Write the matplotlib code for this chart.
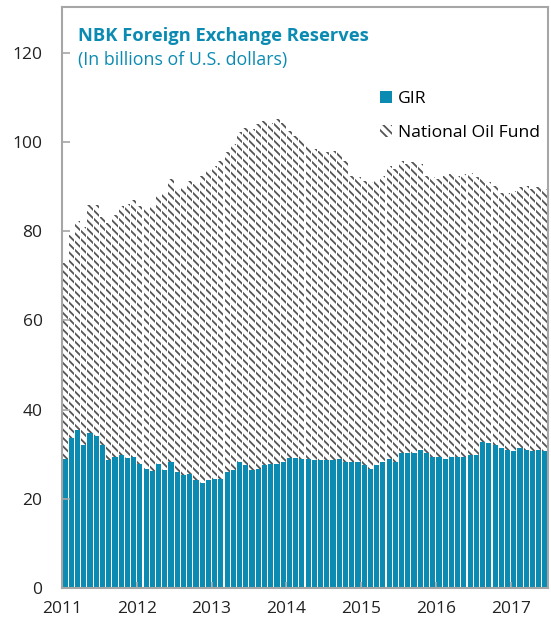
import numpy as np
import matplotlib.pyplot as plt
from matplotlib.patches import Patch

# monthly, Jan 2011 - Jun 2017, billions of US dollars
gir = [29.0, 33.7, 35.3, 32.1, 34.8, 34.0, 32.1, 28.6, 29.4, 29.9, 29.1, 29.4,
       27.9, 26.7, 26.3, 27.9, 26.4, 28.3, 26.0, 25.3, 25.6, 24.1, 23.6, 24.1,
       24.5, 24.5, 26.0, 26.4, 28.3, 27.6, 26.4, 26.7, 27.6, 27.9, 27.9, 28.3,
       29.1, 29.1, 29.0, 29.0, 28.6, 28.6, 28.6, 28.6, 29.0, 28.2, 28.2, 28.2,
       27.5, 26.7, 27.5, 28.2, 29.0, 28.2, 30.2, 30.2, 30.2, 30.9, 30.2, 29.4,
       29.4, 29.0, 29.4, 29.4, 29.4, 29.8, 29.8, 32.8, 32.5, 32.1, 31.3, 31.0,
       30.6, 31.3, 31.0, 30.6, 31.0, 30.6]
total = [72.9, 79.1, 82.3, 80.8, 85.9, 85.9, 83.2, 81.9, 83.6, 85.6, 86.0, 86.9,
         85.6, 85.0, 85.6, 87.9, 88.6, 91.6, 89.4, 89.6, 91.3, 90.5, 92.4, 93.7,
         94.6, 95.7, 97.6, 99.5, 102.1, 103.2, 102.8, 104.0, 104.7, 104.1, 105.1, 104.3,
         102.5, 101.3, 100.6, 99.1, 98.4, 98.0, 97.6, 98.0, 97.6, 95.7, 92.4, 92.0,
         91.3, 90.9, 91.3, 92.4, 94.6, 93.9, 95.7, 95.0, 95.4, 95.0, 92.4, 92.0,
         91.6, 92.4, 92.8, 92.4, 92.8, 93.1, 92.0, 91.6, 90.9, 90.1, 88.6, 88.6,
         89.0, 89.8, 90.1, 89.4, 89.9, 89.4]
years = ['2011', '2012', '2013', '2014', '2015', '2016', '2017']

teal = '#0B8BB2'
frame = '#A6A6A6'
hatch_gray = '#555555'

plt.rcParams['font.family'] = ['Open Sans', 'DejaVu Sans']
plt.rcParams['hatch.linewidth'] = 1.3

fig = plt.figure(figsize=(5.51, 6.27), dpi=100)
ax = fig.add_axes([0.1125, 0.0622, 0.8821, 0.9266])

x = np.arange(len(gir)) + 0.5
oil = np.array(total) - np.array(gir)

ax.bar(x, gir, width=0.82, color=teal, linewidth=0)
ax.bar(x, oil, bottom=gir, width=0.82, facecolor='white', edgecolor=hatch_gray,
       hatch='\\\\\\\\', linewidth=0)

ax.set_xlim(0, len(gir))
ax.set_ylim(0, 130.2)
ax.set_yticks(range(0, 121, 20))
ax.set_xticks(range(0, len(gir), 12))
ax.set_xticklabels(years)

for s in ax.spines.values():
    s.set_color(frame)
    s.set_linewidth(1.5)
ax.tick_params(axis='y', direction='in', length=6, width=1.2, color=frame,
               labelsize=12.5, pad=14, labelcolor='#222222')
ax.tick_params(axis='x', direction='in', length=4, width=1.2, color=frame,
               labelsize=12.5, pad=9, labelcolor='#222222')

ax.text(0.033, 0.95, 'NBK Foreign Exchange Reserves', transform=ax.transAxes,
        fontsize=13.2, fontweight='bold', color=teal, va='center')
ax.text(0.033, 0.908, '(In billions of U.S. dollars)', transform=ax.transAxes,
        fontsize=12.8, color=teal, va='center')

handles = [Patch(facecolor=teal, edgecolor=teal, linewidth=0),
           Patch(facecolor='white', edgecolor=hatch_gray, hatch='\\\\\\\\', linewidth=0)]
ax.legend(handles, ['GIR', 'National Oil Fund'], loc='upper right',
          bbox_to_anchor=(1.0, 0.869), frameon=False, fontsize=12.6,
          handlelength=0.7, handleheight=0.7, handletextpad=0.35,
          labelspacing=1.0, borderaxespad=0.05)

fig.savefig('out.png', dpi=100)
